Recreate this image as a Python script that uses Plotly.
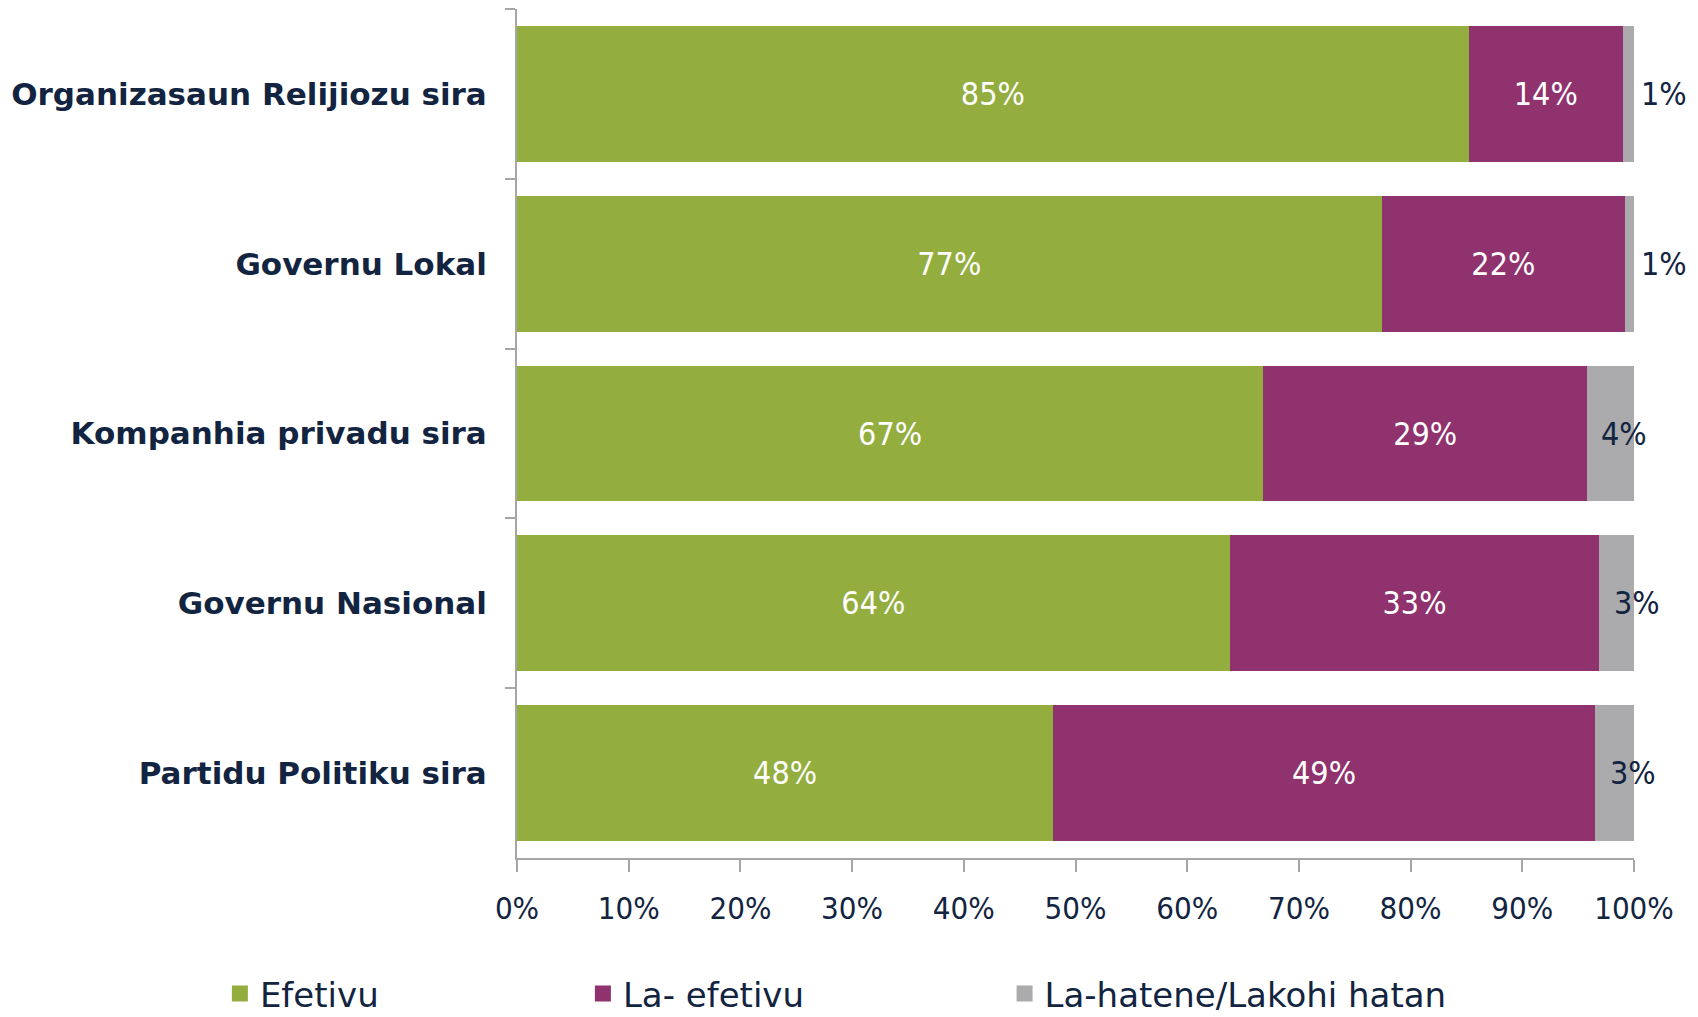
import plotly.graph_objects as go

categories = ["Organizasaun Relijiozu sira", "Governu Lokal", "Kompanhia privadu sira",
              "Governu Nasional", "Partidu Politiku sira"]
efetivu = [85.2, 77.4, 66.8, 63.8, 48.0]
la_efetivu = [13.8, 21.8, 29.0, 33.1, 48.5]
la_hatene = [1.0, 0.8, 4.2, 3.1, 3.5]
label_efetivu = ["85%", "77%", "67%", "64%", "48%"]
label_la_efetivu = ["14%", "22%", "29%", "33%", "49%"]
label_la_hatene = ["1%", "1%", "4%", "3%", "3%"]
series_names = ["Efetivu", "La- efetivu", "La-hatene/Lakohi hatan"]
x_ticks = [0, 10, 20, 30, 40, 50, 60, 70, 80, 90, 100]
x_tick_labels = [f"{v}%" for v in x_ticks]

GREEN = "#93AE3F"
PURPLE = "#8F326D"
GRAY = "#ABABAD"
NAVY = "#12243F"
AXIS = "#A6A6A6"
COND = "DejaVu Sans Condensed, DejaVu Sans, sans-serif"
REG = "DejaVu Sans, sans-serif"
colors = [GREEN, PURPLE, GRAY]
legends = ["legend", "legend2", "legend3"]

fig = go.Figure()
fig.add_trace(go.Bar(y=categories, x=efetivu, orientation="h", name=series_names[0],
                     marker=dict(color=GREEN, line=dict(width=0)),
                     text=label_efetivu, textposition="inside", insidetextanchor="middle",
                     textfont=dict(color="white", size=32, family=COND), showlegend=False))
fig.add_trace(go.Bar(y=categories, x=la_efetivu, orientation="h", name=series_names[1],
                     marker=dict(color=PURPLE, line=dict(width=0)),
                     text=label_la_efetivu, textposition="inside", insidetextanchor="middle",
                     textfont=dict(color="white", size=32, family=COND), showlegend=False))
fig.add_trace(go.Bar(y=categories, x=la_hatene, orientation="h", name=series_names[2],
                     marker=dict(color=GRAY, line=dict(width=0)),
                     textposition="none", showlegend=False))

# legend entries (square swatches)
for name, col, lg in zip(series_names, colors, legends):
    fig.add_trace(go.Scatter(x=[None], y=[None], mode="markers", name=name,
                             marker=dict(symbol="square", size=16, color=col),
                             showlegend=True, legend=lg, hoverinfo="skip"))

# labels for the thin grey segments (placed at the end of each stacked bar)
shifts = [5, 5, -10, 3, -1]
anchors = ["left", "left", "center", "center", "center"]
for cat, a, b, c, lab, sh, an in zip(categories, efetivu, la_efetivu, la_hatene,
                                      label_la_hatene, shifts, anchors):
    fig.add_annotation(x=a + b + c, y=cat, text=lab, showarrow=False, xanchor=an,
                       xshift=sh, font=dict(color=NAVY, size=32, family=COND))

legend_common = dict(orientation="h", yanchor="middle", xanchor="left",
                     font=dict(size=34, color=NAVY, family=REG),
                     bgcolor="rgba(0,0,0,0)", itemwidth=30, itemsizing="trace")
fig.update_layout(
    barmode="stack",
    bargap=0.2,
    showlegend=True,
    width=1690, height=1009,
    margin=dict(l=509, r=64, t=1, b=159, autoexpand=False),
    paper_bgcolor="white", plot_bgcolor="white",
    font=dict(family=REG, color=NAVY),
    legend=dict(x=-0.266, y=-0.16, **legend_common),
    legend2=dict(x=0.059, y=-0.16, **legend_common),
    legend3=dict(x=0.4365, y=-0.16, **legend_common),
    xaxis=dict(range=[0, 100], tickvals=x_ticks, ticktext=x_tick_labels,
               showgrid=False, zeroline=False, showline=True, linecolor=AXIS,
               linewidth=2, ticks="outside", ticklen=12, tickcolor=AXIS, tickwidth=2,
               tickfont=dict(size=31, color=NAVY, family=COND), ticklabelstandoff=10,
               fixedrange=True),
    yaxis=dict(categoryorder="array", categoryarray=categories, autorange="reversed",
               showgrid=False, zeroline=False, showline=True, linecolor=AXIS,
               linewidth=2, ticks="outside", ticklen=10, tickcolor=AXIS, tickwidth=2,
               tickson="boundaries",
               tickfont=dict(size=31, color=NAVY, family=REG, weight="bold"),
               ticklabelstandoff=22, fixedrange=True),
)

fig.write_html("out.html")
